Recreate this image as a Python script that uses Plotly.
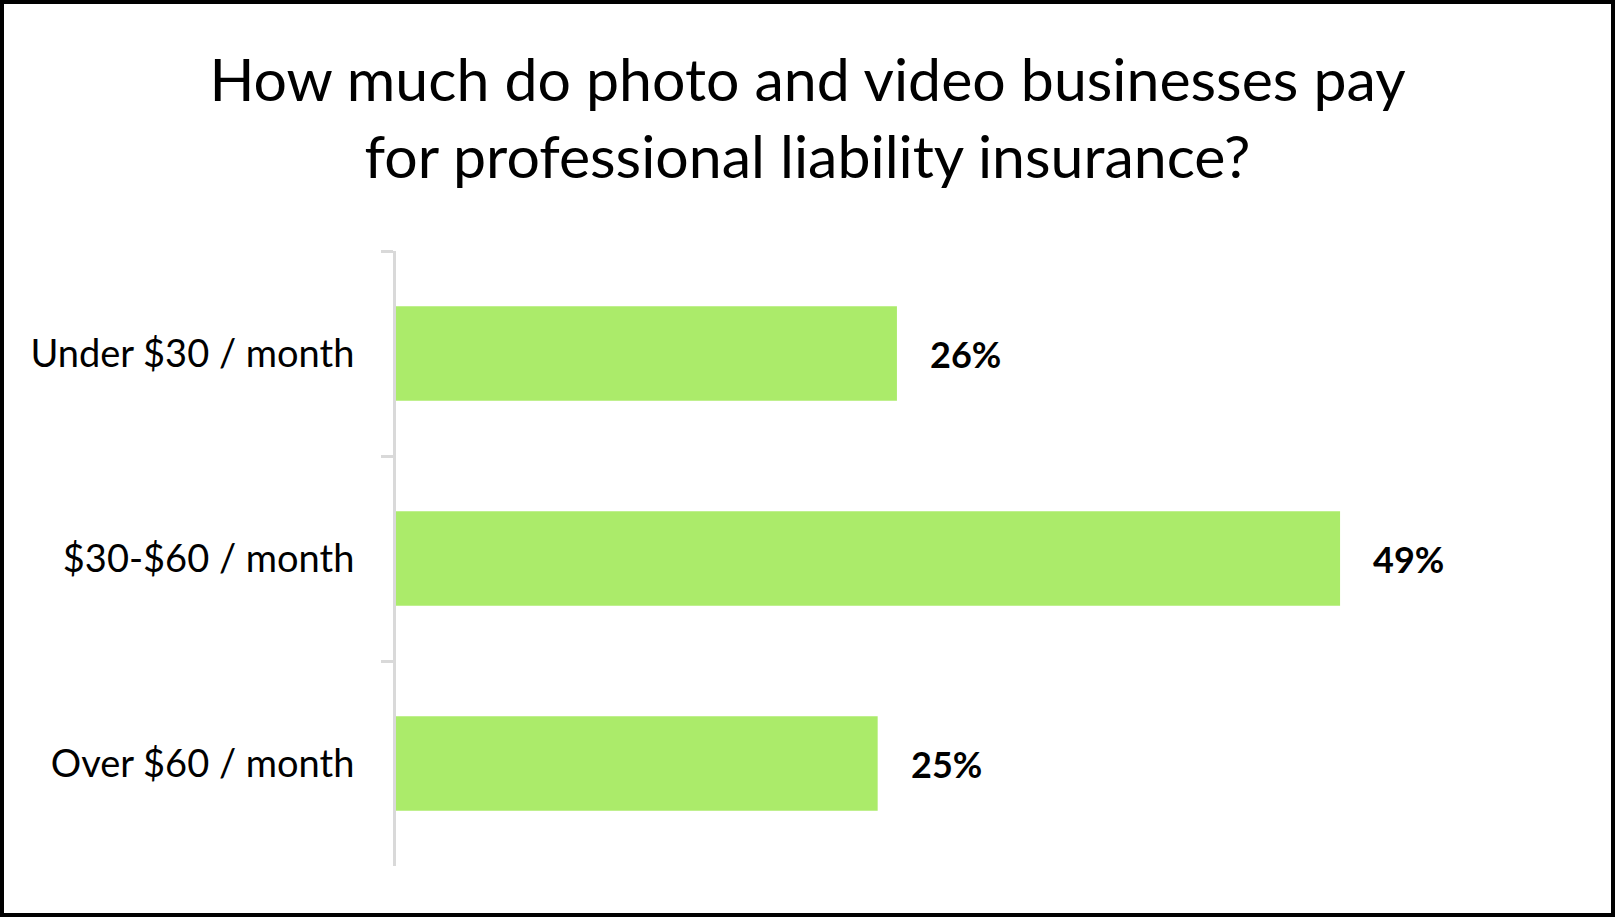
import plotly.graph_objects as go

# survey results
categories = ["Under $30 / month", "$30-$60 / month", "Over $60 / month"]
shares = [26, 49, 25]
value_labels = ["26%", "49%", "25%"]

W, H = 1615, 917
L, R, T, B = 396, 63, 251, 51
FONT = "Lato"

fig = go.Figure()

fig.add_trace(go.Bar(
    x=shares,
    y=categories,
    orientation="h",
    marker=dict(color="#abeb6a", line=dict(width=0)),
    hoverinfo="skip",
))

# value labels to the right of each bar
for cat, val, lab in zip(categories, shares, value_labels):
    fig.add_annotation(x=val, y=cat, text="<b>" + lab + "</b>",
                       showarrow=False, xanchor="left", xshift=31,
                       font=dict(family=FONT, size=36, color="black"))

# outer frame around the whole picture (paper coords -> pixel edges)
pw, ph = W - L - R, H - T - B
fig.add_shape(type="rect", xref="paper", yref="paper",
              x0=(2 - L) / pw, x1=(W - 2 - L) / pw,
              y0=(2 - B) / ph, y1=(H - 2 - B) / ph,
              line=dict(color="black", width=4), fillcolor="rgba(0,0,0,0)")

fig.update_layout(
    width=W, height=H,
    margin=dict(l=L, r=R, t=T, b=B),
    paper_bgcolor="white", plot_bgcolor="white",
    showlegend=False,
    bargap=0.54,
    title=dict(text="How much do photo and video businesses pay<br>for professional liability insurance?",
               x=0.5, xref="container", xanchor="center",
               y=1 - 101 / H, yref="container", yanchor="top",
               font=dict(family=FONT, size=59, color="black")),
    xaxis=dict(range=[0, 60], visible=False, fixedrange=True),
    yaxis=dict(categoryorder="array", categoryarray=categories, autorange="reversed",
               showline=True, linecolor="#d9d9d9", linewidth=3,
               ticks="outside", tickson="boundaries", ticklen=12, tickwidth=3,
               tickcolor="#d9d9d9", ticklabelstandoff=31,
               showgrid=False, zeroline=False,
               tickfont=dict(family=FONT, size=38, color="black")),
)

fig.write_html("out.html", config={"displayModeBar": False},
               post_script="document.body.style.margin='0';")
